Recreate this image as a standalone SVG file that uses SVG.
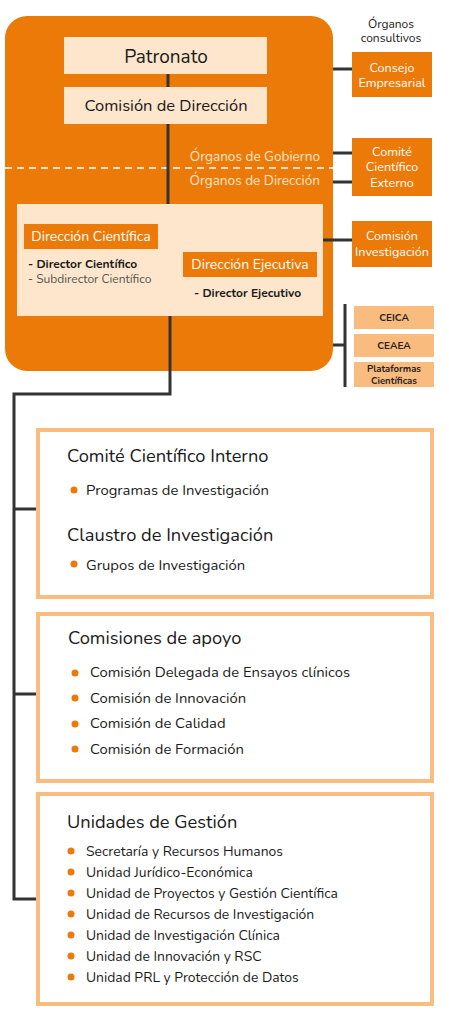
<svg xmlns="http://www.w3.org/2000/svg" width="449" height="1026" viewBox="0 0 449 1026">
<style>
text{font-family:"Nunito","Lato","Open Sans",sans-serif;}
.or{fill:#ec7a08;}
.cream{fill:#fde6cb;}
.pale{fill:#f9bb7e;}
.conn{stroke:#333;stroke-width:3;fill:none;}
.outline{fill:#fff;stroke:#f9bd80;stroke-width:4;}
.wt{fill:#fff;text-anchor:middle;font-size:12.6px;}
.dk{fill:#1a1a1a;}
.h{font-size:18.3px;fill:#1a1a1a;}
.it{font-size:14.8px;fill:#1a1a1a;}
.it2{font-size:13.9px;fill:#1a1a1a;}
.sm{font-size:10px;font-weight:bold;fill:#222;text-anchor:middle;}
.dot{fill:#ec7a08;}
</style>
<rect width="449" height="1026" fill="#fff"/>
<g id="main-frame">
<rect x="5" y="16" width="328" height="355" rx="22" class="or"/>
<line x1="5" y1="168" x2="333" y2="168" stroke="#fff" stroke-width="1.5" stroke-dasharray="7,5"/>
<text x="320" y="161" font-size="13.6" fill="#fde6cb" text-anchor="end">Órganos de Gobierno</text>
<text x="320" y="185" font-size="13.6" fill="#fde6cb" text-anchor="end">Órganos de Dirección</text>
</g>
<g id="connectors">
<path class="conn" d="M168 74V87M168 124V204"/>
<path class="conn" d="M333 69H352M333 153H352M333 182H352M323 240H352"/>
<path class="conn" d="M333 345H345M345 304V387"/>
<path class="conn" d="M158 233H250V252"/>
<path class="conn" d="M170 316V394H14V899H36M14 509H36M14 694H36"/>
</g>
<g id="patronato">
<rect x="64" y="37" width="203" height="37" class="cream"/>
<text x="166" y="63" font-size="19" text-anchor="middle" class="dk">Patronato</text>
</g>
<g id="comision-direccion">
<rect x="64" y="87" width="203" height="37" class="cream"/>
<text x="166" y="111" font-size="16.5" text-anchor="middle" class="dk">Comisión de Dirección</text>
</g>
<g id="organos-consultivos-label">
<text x="391" y="28" font-size="12" text-anchor="middle" class="dk">Órganos</text>
<text x="391" y="42" font-size="12" text-anchor="middle" class="dk">consultivos</text>
</g>
<g id="consejo-empresarial">
<rect x="352" y="52" width="80" height="45" class="or"/>
<text x="392" y="71.5" class="wt">Consejo</text>
<text x="392" y="87" class="wt">Empresarial</text>
</g>
<g id="comite-cientifico-externo">
<rect x="352" y="138" width="80" height="58" class="or"/>
<text x="392" y="155.5" class="wt">Comité</text>
<text x="392" y="171" class="wt">Científico</text>
<text x="392" y="187" class="wt">Externo</text>
</g>
<g id="direccion-box">
<rect x="17" y="204" width="306" height="112" class="cream"/>
</g>
<g id="direccion-cientifica">
<rect x="24" y="224" width="134" height="25" class="or"/>
<text x="91" y="241" class="wt" style="font-size:14px">Dirección Científica</text>
<text x="28" y="268" font-size="12" font-weight="bold" class="dk">- Director Científico</text>
<text x="28" y="283" font-size="12" fill="#555">- Subdirector Científico</text>
</g>
<g id="direccion-ejecutiva">
<rect x="183" y="252" width="134" height="25" class="or"/>
<text x="250" y="269" class="wt" style="font-size:14px">Dirección Ejecutiva</text>
<text x="194" y="297" font-size="12" font-weight="bold" class="dk">- Director Ejecutivo</text>
</g>
<g id="comision-investigacion">
<rect x="352" y="221" width="80" height="46" class="or"/>
<text x="392" y="240" class="wt">Comisión</text>
<text x="392" y="256" class="wt">Investigación</text>
</g>
<g id="ceica">
<rect x="354" y="306" width="80" height="23" class="pale"/>
<text x="394" y="321" class="sm">CEICA</text>
</g>
<g id="ceaea">
<rect x="354" y="334" width="80" height="23" class="pale"/>
<text x="394" y="349" class="sm">CEAEA</text>
</g>
<g id="plataformas">
<rect x="354" y="362" width="80" height="25" class="pale"/>
<text x="394" y="372" class="sm" style="font-size:9.5px">Plataformas</text>
<text x="394" y="384" class="sm" style="font-size:9.5px">Científicas</text>
</g>
<g id="comite-interno">
<rect x="38" y="430" width="394" height="167" class="outline"/>
<text x="67" y="462" class="h">Comité Científico Interno</text>
<circle cx="74" cy="490" r="3.5" class="dot"/>
<text x="86" y="495" class="it">Programas de Investigación</text>
<text x="67" y="541" class="h">Claustro de Investigación</text>
<circle cx="74" cy="564" r="3.5" class="dot"/>
<text x="86" y="570" class="it">Grupos de Investigación</text>
</g>
<g id="comisiones-apoyo">
<rect x="38" y="614" width="394" height="167" class="outline"/>
<text x="68" y="644" class="h">Comisiones de apoyo</text>
<circle cx="75" cy="673" r="3.5" class="dot"/>
<text x="90" y="677" class="it">Comisión Delegada de Ensayos clínicos</text>
<circle cx="75" cy="698" r="3.5" class="dot"/>
<text x="90" y="703" class="it">Comisión de Innovación</text>
<circle cx="75" cy="724" r="3.5" class="dot"/>
<text x="90" y="728" class="it">Comisión de Calidad</text>
<circle cx="75" cy="749" r="3.5" class="dot"/>
<text x="90" y="754" class="it">Comisión de Formación</text>
</g>
<g id="unidades-gestion">
<rect x="38" y="794" width="394" height="210" class="outline"/>
<text x="67" y="828" class="h">Unidades de Gestión</text>
<circle cx="71" cy="851" r="3.5" class="dot"/>
<text x="86" y="856" class="it2">Secretaría y Recursos Humanos</text>
<circle cx="71" cy="872" r="3.5" class="dot"/>
<text x="86" y="877" class="it2">Unidad Jurídico-Económica</text>
<circle cx="71" cy="893" r="3.5" class="dot"/>
<text x="86" y="898" class="it2">Unidad de Proyectos y Gestión Científica</text>
<circle cx="71" cy="914" r="3.5" class="dot"/>
<text x="86" y="919" class="it2">Unidad de Recursos de Investigación</text>
<circle cx="71" cy="935" r="3.5" class="dot"/>
<text x="86" y="940" class="it2">Unidad de Investigación Clínica</text>
<circle cx="71" cy="956" r="3.5" class="dot"/>
<text x="86" y="961" class="it2">Unidad de Innovación y RSC</text>
<circle cx="71" cy="977" r="3.5" class="dot"/>
<text x="86" y="982" class="it2">Unidad PRL y Protección de Datos</text>
</g>
</svg>
